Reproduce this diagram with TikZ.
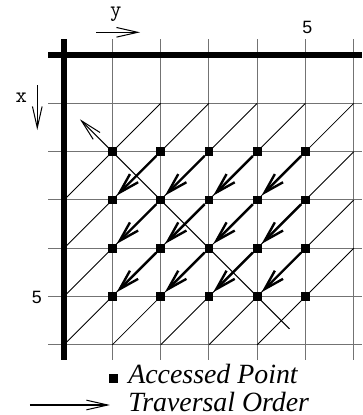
\documentclass[tikz,border=0pt]{standalone}
\usepackage{fontspec}
\setmainfont{Liberation Serif}
\setsansfont{Liberation Sans}
\usetikzlibrary{arrows.meta}
\usetikzlibrary{positioning}

\tikzset{
  axisline/.style={line width=3.5pt},
  gridline/.style={line width=0.6pt, black!55},
  diagline/.style={line width=0.5pt},
  accpt/.style={fill=black, minimum size=0.18cm, inner sep=0pt, outer sep=0pt},
  trav/.style={line width=1.4pt, -{Straight Barb[length=4.2mm,width=2.4mm]}},
  dirarrow/.style={line width=0.6pt, -{Straight Barb[length=4.4mm,width=2.0mm]}},
  axlbl/.style={font=\ttfamily\fontsize{13}{15}\selectfont, inner sep=0pt},
  numlbl/.style={font=\sffamily\fontsize{10.5}{12}\selectfont, inner sep=0pt},
  legtext/.style={font=\itshape\fontsize{16.4}{18}\selectfont, anchor=base west, inner sep=0pt}
}

\begin{document}
\begin{tikzpicture}[x=1cm, y=-1cm]

\useasboundingbox (0,0) rectangle (7.495,8.592);

%---------------------------------------
% Grid placement
%---------------------------------------
\def\Ox{1.325}   % column 0
\def\Oy{1.139}   % row 0
\def\Lo{-0.331}  % start of the grid lines
\def\Hi{6.315}   % lower end of the columns
\def\Ri{6.17}    % right end of the rows

\begin{scope}[shift={(\Ox,\Oy)}]

  % Thin grid lines
  \foreach \i in {1,...,6}{
    \draw[gridline] (\i,\Lo) -- (\i,\Hi);
    \draw[gridline] (\Lo,\i) -- (\Ri,\i);
  }

  % Diagonals x+y = k
  \foreach \k in {3,...,10}{
    \pgfmathtruncatemacro{\ra}{max(1,\k-6)}
    \pgfmathtruncatemacro{\ca}{\k-\ra}
    \pgfmathtruncatemacro{\cb}{max(0,\k-6)}
    \pgfmathtruncatemacro{\rb}{\k-\cb}
    \draw[diagline] (\ca,\ra) -- (\cb,\rb);
  }

  % Axes
  \draw[axisline] (0,\Lo) -- (0,\Hi);
  \draw[axisline] (\Lo,0) -- (\Ri,0);

  \node[numlbl] (ncol) at (5.04,-0.58) {5};
  \node[numlbl] (nrow) at (-0.56,5.01) {5};

  % Direction of the diagonals
  \coordinate (dirA) at (4.67,5.67);
  \coordinate (dirB) at (0.33,1.33);
  \draw[dirarrow] (dirA) -- (dirB);

  % ---- Accessed points ----
  \foreach \r in {2,...,5}
    \foreach \c in {1,...,5}
      \node[accpt] (a\r\c) at (\c,\r) {};

  % ---- Traversal order ----
  \foreach \r in {2,3,4}
    \foreach \c in {2,...,5}{
      \pgfmathtruncatemacro{\rn}{\r+1}
      \pgfmathtruncatemacro{\cn}{\c-1}
      \draw[trav] (a\r\c) -- (a\rn\cn);
    }
\end{scope}

%---------------------------------------
% Index directions
%---------------------------------------
\node[axlbl] (ylbl) at (2.40,0.29) {y};
\coordinate (yA) at (1.988,0.669);
\coordinate (yB) at (2.899,0.669);
\draw[dirarrow] (yA) -- (yB);

\node[axlbl] (xlbl) at (0.44,2.03) {x};
\coordinate (xA) at (0.772,1.760);
\coordinate (xB) at (0.772,2.692);
\draw[dirarrow] (xA) -- (xB);

%---------------------------------------
% Legend
%---------------------------------------
\node[accpt] (keypt) at (2.346,7.836) {};
\node[legtext] (keyptlbl) at (2.650,7.930) {Accessed Point};

\coordinate (keyA) at (0.621,8.385);
\coordinate (keyB) at (2.277,8.385);
\draw[dirarrow] (keyA) -- (keyB);
\node[legtext] (keyarlbl) at (2.650,8.52) {Traversal Order};

\end{tikzpicture}
\end{document}
